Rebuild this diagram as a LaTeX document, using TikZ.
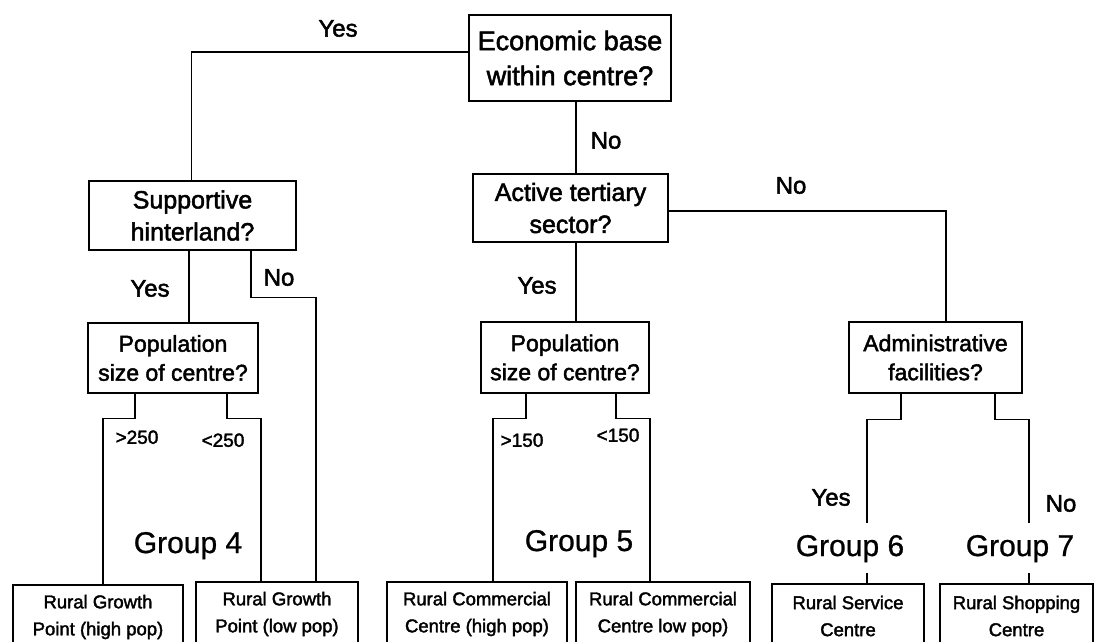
\documentclass[tikz,border=0pt]{standalone}
\usepackage{fontspec}
\setmainfont{Liberation Sans}
\newfontfamily\heavy[FakeBold=2]{Liberation Sans}
\newfontfamily\medium[FakeBold=0.8]{Liberation Sans}
\newcommand\fEcon{\heavy\fontsize{27}{35}\selectfont}
\newcommand\fMid{\heavy\fontsize{25}{32}\selectfont}
\newcommand\fSmall{\heavy\fontsize{23}{29}\selectfont}
\newcommand\fLeaf{\heavy\fontsize{18.5}{27}\selectfont}
\newcommand\fAns{\heavy\fontsize{24}{28}\selectfont}
\newcommand\fCut{\heavy\fontsize{19}{22}\selectfont}
\newcommand\fGroup{\medium\fontsize{30}{34}\selectfont}
\begin{document}
\begin{tikzpicture}[x=1pt,y=-1pt,line width=1.3pt,
  qbox/.style={draw,line width=1.3pt,align=center,inner sep=0pt},
  leaf/.style={qbox,font=\fLeaf,minimum height=64pt},
  ans/.style={anchor=base,font=\fAns,inner sep=0pt},
  cut/.style={anchor=base,font=\fCut,inner sep=0pt},
  grp/.style={anchor=base,font=\fGroup,inner sep=0pt},
  grpfill/.style={grp,fill=white,text height=22pt,text depth=6pt,inner xsep=2pt,inner ysep=11pt}]
\clip (0,0) rectangle (1095,642);
\fill[white] (0,0) rectangle (1095,642);

% decision boxes
\node[qbox,font=\fEcon,minimum width=202pt,minimum height=86pt] (econ) at (570,58) {Economic base\\within centre?};
\node[qbox,font=\fMid,minimum width=207pt,minimum height=69pt] (supp) at (192.5,215.5) {Supportive\\hinterland?};
\node[qbox,font=\fMid,minimum width=195pt,minimum height=68pt] (act) at (570.5,208) {Active tertiary\\sector?};
\node[qbox,font=\fSmall,minimum width=170pt,minimum height=70pt] (pop1) at (173,358) {Population\\size of centre?};
\node[qbox,font=\fSmall,minimum width=168pt,minimum height=71pt] (pop2) at (565,357.5) {Population\\size of centre?};
\node[qbox,font=\fSmall,minimum width=173pt,minimum height=71pt] (admin) at (935.5,357.5) {Administrative\\facilities?};

% outcome boxes
\node[leaf,minimum width=170pt] (b1) at (98,617) {Rural Growth\\Point (high pop)};
\node[leaf,minimum width=162pt] (b2) at (277,614) {Rural Growth\\Point (low pop)};
\node[leaf,minimum width=180pt] (b3) at (477,614) {Rural Commercial\\Centre (high pop)};
\node[leaf,minimum width=174pt] (b4) at (663,614) {Rural Commercial\\Centre low pop)};
\node[leaf,minimum width=152pt] (b5) at (848,616) {Rural Service\\Centre};
\node[leaf,minimum width=153pt] (b6) at (1016.5,616) {Rural Shopping\\Centre};

% connectors
\draw ([yshift=6pt]econ.west) -| ([xshift=-1pt]supp.north);
\draw ([xshift=6pt]econ.south) -- ([xshift=6pt]econ.south |- act.north);
\draw ([yshift=-3pt]act.east) -| ([xshift=10.5pt]admin.north);
\draw ([xshift=5.5pt]act.south) -- ([xshift=5.5pt]act.south |- pop2.north);
\draw ([xshift=-3.5pt]supp.south) -- ([xshift=-3.5pt]supp.south |- pop1.north);
\draw ([xshift=58.5pt]supp.south) -- ++(0,47) -| ([xshift=39pt]b2.north);
\draw ([xshift=-38pt]pop1.south) -- ++(0,25) -| ([xshift=5pt]b1.north);
\draw ([xshift=54pt]pop1.south) -- ++(0,25) -| ([xshift=-16pt]b2.north);
\draw ([xshift=-39pt]pop2.south) -- ++(0,25) -| ([xshift=16pt]b3.north);
\draw ([xshift=51pt]pop2.south) -- ++(0,25) -| ([xshift=-13pt]b4.north);
\draw ([xshift=-34.5pt]admin.south) -- ++(0,26) -| ([xshift=19pt]b5.north);
\draw ([xshift=59.5pt]admin.south) -- ++(0,26) -| ([xshift=12.5pt]b6.north);

% branch answers
\node[ans] (a1) at (338,36.6) {Yes};
\node[ans] (a2) at (606,148.6) {No};
\node[ans] (a3) at (791,193.6) {No};
\node[ans] (a4) at (150,296.6) {Yes};
\node[ans] (a5) at (279,285.6) {No};
\node[ans] (a6) at (537,293.6) {Yes};
\node[ans] (a7) at (831,505.6) {Yes};
\node[ans] (a8) at (1061,511.6) {No};

% population thresholds
\node[cut] (c1) at (137,443.8) {>250};
\node[cut] (c2) at (223,446.8) {<250};
\node[cut] (c3) at (522,446.8) {>150};
\node[cut] (c4) at (618,441.8) {<150};

% group names
\node[grp] (g4) at (188,553) {Group 4};
\node[grp] (g5) at (579,551) {Group 5};
\node[grpfill] (g6) at (850,556) {Group 6};
\node[grpfill] (g7) at (1020,556) {Group 7};
\end{tikzpicture}
\end{document}
